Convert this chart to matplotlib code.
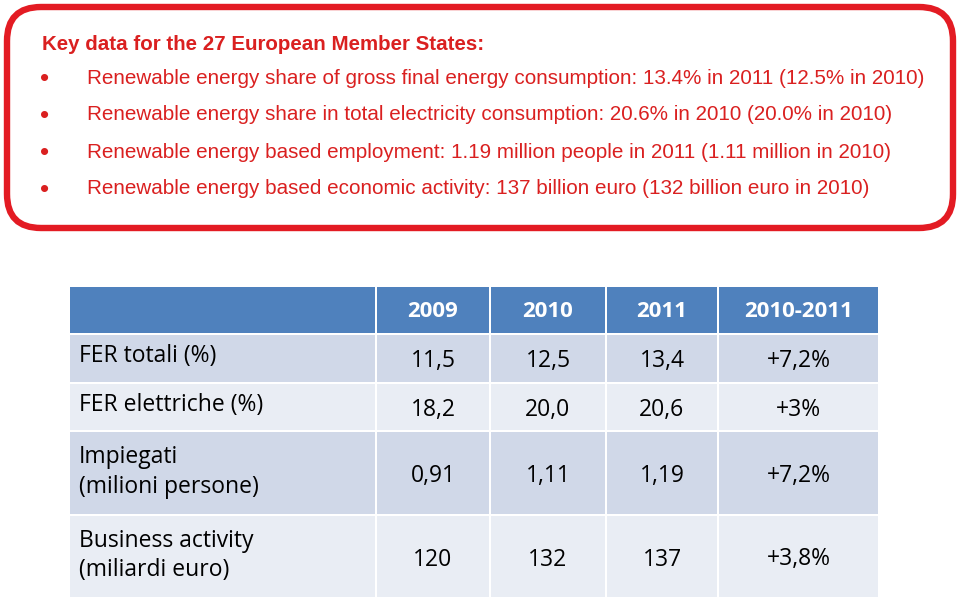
import matplotlib
matplotlib.use('Agg')
import matplotlib.pyplot as plt
from matplotlib.patches import FancyBboxPatch, Rectangle

# top box
title = 'Key data for the 27 European Member States:'
bullets = [
	'Renewable energy share of gross final energy consumption: 13.4% in 2011 (12.5% in 2010)',
	'Renewable energy share in total electricity consumption: 20.6% in 2010 (20.0% in 2010)',
	'Renewable energy based employment: 1.19 million people in 2011 (1.11 million in 2010)',
	'Renewable energy based economic activity: 137 billion euro (132 billion euro in 2010)',
]

# table
columns = ['2009', '2010', '2011', '2010-2011']
row_labels = ['FER totali (%)', 'FER elettriche (%)', 'Impiegati\n(milioni persone)',
			  'Business activity\n(miliardi euro)']
v2009 = ['11,5', '18,2', '0,91', '120']
v2010 = ['12,5', '20,0', '1,11', '132']
v2011 = ['13,4', '20,6', '1,19', '137']
change = ['+7,2%', '+3%', '+7,2%', '+3,8%']

RED = '#E31B23'
TXT_RED = '#DA2020'
HEAD = '#4F81BD'
ROW_A = '#D0D8E8'
ROW_B = '#E9EDF4'

fig = plt.figure(figsize=(9.6, 6), dpi=100)
ax = fig.add_axes([0, 0, 1, 1])
ax.set_xlim(0, 960)
ax.set_ylim(600, 0)
ax.axis('off')

# red rounded frame
box = FancyBboxPatch((7, 7), 946, 221, boxstyle='round,pad=0,rounding_size=34',
					 fc='white', ec=RED, lw=4.6)
ax.add_patch(box)

ax.text(42, 45, title, color=TXT_RED, fontsize=14.8, fontweight='bold',
		family='Liberation Sans', va='center', ha='left')
for i, b in enumerate(bullets):
	y = 78 + i * 37
	ax.text(40, y + 1, '\u2022', color=TXT_RED, fontsize=19, family='Liberation Sans', va='center')
	ax.text(87, y, b, color=TXT_RED, fontsize=14.9, family='Liberation Sans', va='center', ha='left')

# table layout (pixel edges)
col_x = [69, 376, 490, 606, 718, 879]
row_y = [287, 334, 383, 431, 515, 598]
gap = 1.0
font = 'Open Sans'
fs = 16.5

cols_data = [v2009, v2010, v2011, change]

# header
for c in range(len(col_x) - 1):
	ax.add_patch(Rectangle((col_x[c] + gap, row_y[0]), col_x[c + 1] - col_x[c] - 2 * gap,
						   row_y[1] - row_y[0] - gap, fc=HEAD, ec='none'))
for j, name in enumerate(columns):
	cx = (col_x[j + 1] + col_x[j + 2]) / 2
	ax.text(cx, (row_y[0] + row_y[1]) / 2 + 1, name, color='white', fontsize=16,
			fontweight='bold', family=font, ha='center', va='center')

for r in range(len(row_labels)):
	y0, y1 = row_y[r + 1], row_y[r + 2]
	color = ROW_A if r % 2 == 0 else ROW_B
	for c in range(len(col_x) - 1):
		ax.add_patch(Rectangle((col_x[c] + gap, y0 + gap), col_x[c + 1] - col_x[c] - 2 * gap,
							   y1 - y0 - 2 * gap, fc=color, ec='none'))
	cy = (y0 + y1) / 2
	ly = cy - 2
	if r >= 2:
		ly = cy - 1
	ax.text(79, ly, row_labels[r], color='black', fontsize=fs, family=font,
			ha='left', va='center', linespacing=1.3)
	for j, vals in enumerate(cols_data):
		cx = (col_x[j + 1] + col_x[j + 2]) / 2
		ax.text(cx, cy + 3, vals[r], color='black', fontsize=fs, family=font,
				ha='center', va='center')

fig.savefig('out.png', dpi=100, facecolor='white')
